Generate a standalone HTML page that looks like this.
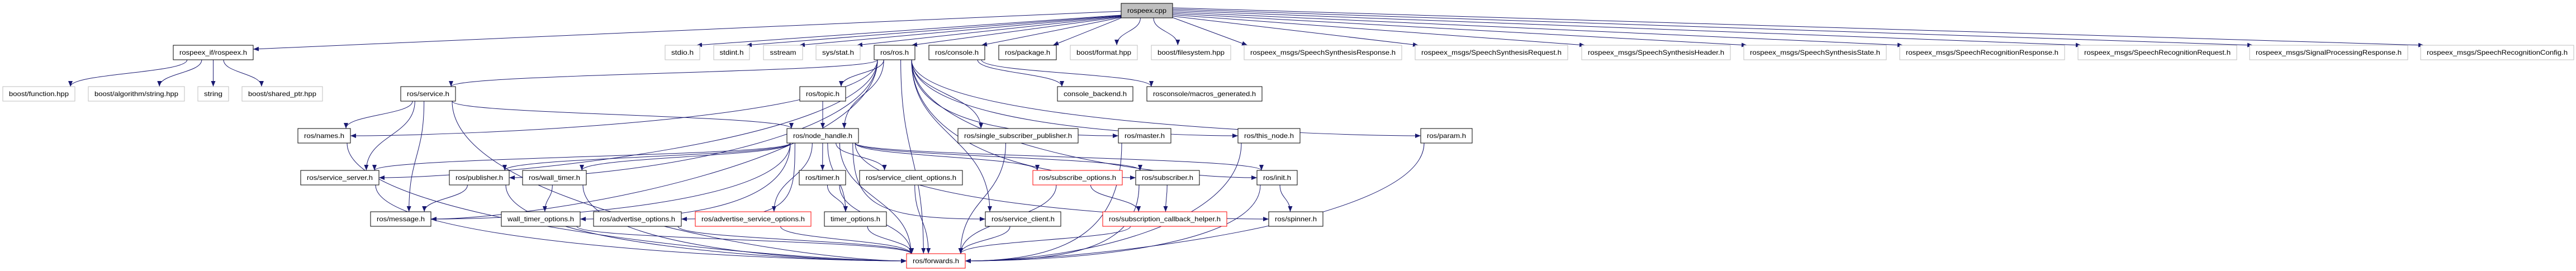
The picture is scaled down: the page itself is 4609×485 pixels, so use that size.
<!DOCTYPE html>
<html><head><meta charset="utf-8"><style>
html,body{margin:0;padding:0;background:#fff;}
svg{display:block;}
text{font-family:"Liberation Sans",sans-serif;font-size:12px;fill:#000;}
</style></head><body>
<svg id="g" width="4609" height="485" viewBox="0 0 4609 485" xmlns="http://www.w3.org/2000/svg">
<defs><marker id="a" markerWidth="10" markerHeight="8" refX="10" refY="4" orient="auto" markerUnits="userSpaceOnUse"><path d="M0,0 L10,4 L0,8 z" fill="#191970"/></marker></defs>
<g id="edges" fill="none" stroke="#191970" stroke-width="1"></g>
<g id="nodes">
<rect id="cpp" x="2006" y="6" width="92" height="26" fill="#bfbfbf" stroke="#000"/><text x="2052" y="23" text-anchor="middle" textLength="70" lengthAdjust="spacingAndGlyphs">rospeex.cpp</text>

<rect id="rif" x="310" y="81" width="143" height="26" fill="#fff" stroke="#000"/><text x="381.5" y="98" text-anchor="middle" textLength="121" lengthAdjust="spacingAndGlyphs">rospeex_if/rospeex.h</text>
<rect id="stdio" x="1190" y="81" width="62" height="26" fill="#fff" stroke="#bfbfbf"/><text x="1221" y="98" text-anchor="middle" textLength="40" lengthAdjust="spacingAndGlyphs">stdio.h</text>
<rect id="stdint" x="1277" y="81" width="64" height="26" fill="#fff" stroke="#bfbfbf"/><text x="1309" y="98" text-anchor="middle" textLength="43" lengthAdjust="spacingAndGlyphs">stdint.h</text>
<rect id="sstream" x="1366" y="81" width="70" height="26" fill="#fff" stroke="#bfbfbf"/><text x="1401" y="98" text-anchor="middle" textLength="47" lengthAdjust="spacingAndGlyphs">sstream</text>
<rect id="sysstat" x="1460" y="81" width="79" height="26" fill="#fff" stroke="#bfbfbf"/><text x="1499.5" y="98" text-anchor="middle" textLength="57" lengthAdjust="spacingAndGlyphs">sys/stat.h</text>
<rect id="ros" x="1564" y="81" width="73" height="26" fill="#fff" stroke="#000"/><text x="1600.5" y="98" text-anchor="middle" textLength="51" lengthAdjust="spacingAndGlyphs">ros/ros.h</text>
<rect id="console" x="1662" y="81" width="100" height="26" fill="#fff" stroke="#000"/><text x="1712" y="98" text-anchor="middle" textLength="78" lengthAdjust="spacingAndGlyphs">ros/console.h</text>
<rect id="package" x="1787" y="81" width="103" height="26" fill="#fff" stroke="#000"/><text x="1838.5" y="98" text-anchor="middle" textLength="81" lengthAdjust="spacingAndGlyphs">ros/package.h</text>
<rect id="bformat" x="1915" y="81" width="120" height="26" fill="#fff" stroke="#bfbfbf"/><text x="1975" y="98" text-anchor="middle" textLength="98" lengthAdjust="spacingAndGlyphs">boost/format.hpp</text>
<rect id="bfs" x="2060" y="81" width="142" height="26" fill="#fff" stroke="#bfbfbf"/><text x="2131" y="98" text-anchor="middle" textLength="120" lengthAdjust="spacingAndGlyphs">boost/filesystem.hpp</text>
<rect id="m1" x="2226" y="81" width="282" height="26" fill="#fff" stroke="#bfbfbf"/><text x="2367" y="98" text-anchor="middle" textLength="260" lengthAdjust="spacingAndGlyphs">rospeex_msgs/SpeechSynthesisResponse.h</text>
<rect id="m2" x="2532" y="81" width="273" height="26" fill="#fff" stroke="#bfbfbf"/><text x="2668.5" y="98" text-anchor="middle" textLength="251" lengthAdjust="spacingAndGlyphs">rospeex_msgs/SpeechSynthesisRequest.h</text>
<rect id="m3" x="2830" y="81" width="266" height="26" fill="#fff" stroke="#bfbfbf"/><text x="2963" y="98" text-anchor="middle" textLength="244" lengthAdjust="spacingAndGlyphs">rospeex_msgs/SpeechSynthesisHeader.h</text>
<rect id="m4" x="3120" y="81" width="255" height="26" fill="#fff" stroke="#bfbfbf"/><text x="3247.5" y="98" text-anchor="middle" textLength="233" lengthAdjust="spacingAndGlyphs">rospeex_msgs/SpeechSynthesisState.h</text>
<rect id="m5" x="3399" y="81" width="295" height="26" fill="#fff" stroke="#bfbfbf"/><text x="3546.5" y="98" text-anchor="middle" textLength="273" lengthAdjust="spacingAndGlyphs">rospeex_msgs/SpeechRecognitionResponse.h</text>
<rect id="m6" x="3718" y="81" width="284" height="26" fill="#fff" stroke="#bfbfbf"/><text x="3860" y="98" text-anchor="middle" textLength="262" lengthAdjust="spacingAndGlyphs">rospeex_msgs/SpeechRecognitionRequest.h</text>
<rect id="m7" x="4025" y="81" width="283" height="26" fill="#fff" stroke="#bfbfbf"/><text x="4166.5" y="98" text-anchor="middle" textLength="261" lengthAdjust="spacingAndGlyphs">rospeex_msgs/SignalProcessingResponse.h</text>
<rect id="m8" x="4331" y="81" width="274" height="26" fill="#fff" stroke="#bfbfbf"/><text x="4468" y="98" text-anchor="middle" textLength="252" lengthAdjust="spacingAndGlyphs">rospeex_msgs/SpeechRecognitionConfig.h</text>

<rect id="bfunc" x="5" y="155" width="129" height="26" fill="#fff" stroke="#bfbfbf"/><text x="69.5" y="172" text-anchor="middle" textLength="107" lengthAdjust="spacingAndGlyphs">boost/function.hpp</text>
<rect id="balg" x="158" y="155" width="172" height="26" fill="#fff" stroke="#bfbfbf"/><text x="244" y="172" text-anchor="middle" textLength="150" lengthAdjust="spacingAndGlyphs">boost/algorithm/string.hpp</text>
<rect id="string" x="354" y="155" width="55" height="26" fill="#fff" stroke="#bfbfbf"/><text x="381.5" y="172" text-anchor="middle" textLength="33" lengthAdjust="spacingAndGlyphs">string</text>
<rect id="bsp" x="433" y="155" width="144" height="26" fill="#fff" stroke="#bfbfbf"/><text x="505" y="172" text-anchor="middle" textLength="122" lengthAdjust="spacingAndGlyphs">boost/shared_ptr.hpp</text>
<rect id="service" x="717" y="155" width="98" height="26" fill="#fff" stroke="#000"/><text x="766" y="172" text-anchor="middle" textLength="76" lengthAdjust="spacingAndGlyphs">ros/service.h</text>
<rect id="topic" x="1431" y="155" width="82" height="26" fill="#fff" stroke="#000"/><text x="1472" y="172" text-anchor="middle" textLength="60" lengthAdjust="spacingAndGlyphs">ros/topic.h</text>
<rect id="cback" x="1892" y="155" width="135" height="26" fill="#fff" stroke="#000"/><text x="1959.5" y="172" text-anchor="middle" textLength="113" lengthAdjust="spacingAndGlyphs">console_backend.h</text>
<rect id="macros" x="2052" y="155" width="206" height="26" fill="#fff" stroke="#000"/><text x="2155" y="172" text-anchor="middle" textLength="184" lengthAdjust="spacingAndGlyphs">rosconsole/macros_generated.h</text>

<rect id="names" x="533" y="230" width="94" height="26" fill="#fff" stroke="#000"/><text x="580" y="247" text-anchor="middle" textLength="72" lengthAdjust="spacingAndGlyphs">ros/names.h</text>
<rect id="nh" x="1408" y="230" width="128" height="26" fill="#fff" stroke="#000"/><text x="1472" y="247" text-anchor="middle" textLength="106" lengthAdjust="spacingAndGlyphs">ros/node_handle.h</text>
<rect id="ssp" x="1714" y="230" width="215" height="26" fill="#fff" stroke="#000"/><text x="1821.5" y="247" text-anchor="middle" textLength="193" lengthAdjust="spacingAndGlyphs">ros/single_subscriber_publisher.h</text>
<rect id="master" x="2001" y="230" width="94" height="26" fill="#fff" stroke="#000"/><text x="2048" y="247" text-anchor="middle" textLength="72" lengthAdjust="spacingAndGlyphs">ros/master.h</text>
<rect id="thisnode" x="2215" y="230" width="111" height="26" fill="#fff" stroke="#000"/><text x="2270.5" y="247" text-anchor="middle" textLength="89" lengthAdjust="spacingAndGlyphs">ros/this_node.h</text>
<rect id="param" x="2542" y="230" width="92" height="26" fill="#fff" stroke="#000"/><text x="2588" y="247" text-anchor="middle" textLength="70" lengthAdjust="spacingAndGlyphs">ros/param.h</text>

<rect id="sserver" x="538" y="305" width="140" height="26" fill="#fff" stroke="#000"/><text x="608" y="322" text-anchor="middle" textLength="118" lengthAdjust="spacingAndGlyphs">ros/service_server.h</text>
<rect id="pub" x="804" y="305" width="107" height="26" fill="#fff" stroke="#000"/><text x="857.5" y="322" text-anchor="middle" textLength="85" lengthAdjust="spacingAndGlyphs">ros/publisher.h</text>
<rect id="wtimer" x="935" y="305" width="114" height="26" fill="#fff" stroke="#000"/><text x="992" y="322" text-anchor="middle" textLength="92" lengthAdjust="spacingAndGlyphs">ros/wall_timer.h</text>
<rect id="timer" x="1430" y="305" width="83" height="26" fill="#fff" stroke="#000"/><text x="1471.5" y="322" text-anchor="middle" textLength="61" lengthAdjust="spacingAndGlyphs">ros/timer.h</text>
<rect id="sco" x="1538" y="305" width="184" height="26" fill="#fff" stroke="#000"/><text x="1630" y="322" text-anchor="middle" textLength="162" lengthAdjust="spacingAndGlyphs">ros/service_client_options.h</text>
<rect id="subopt" x="1848" y="305" width="160" height="26" fill="#fff" stroke="#ff0000"/><text x="1928" y="322" text-anchor="middle" textLength="138" lengthAdjust="spacingAndGlyphs">ros/subscribe_options.h</text>
<rect id="sub" x="2032" y="305" width="114" height="26" fill="#fff" stroke="#000"/><text x="2089" y="322" text-anchor="middle" textLength="92" lengthAdjust="spacingAndGlyphs">ros/subscriber.h</text>
<rect id="init" x="2249" y="305" width="72" height="26" fill="#fff" stroke="#000"/><text x="2285" y="322" text-anchor="middle" textLength="50" lengthAdjust="spacingAndGlyphs">ros/init.h</text>

<rect id="message" x="663" y="379" width="108" height="26" fill="#fff" stroke="#000"/><text x="717" y="396" text-anchor="middle" textLength="86" lengthAdjust="spacingAndGlyphs">ros/message.h</text>
<rect id="wto" x="897" y="379" width="141" height="26" fill="#fff" stroke="#000"/><text x="967.5" y="396" text-anchor="middle" textLength="119" lengthAdjust="spacingAndGlyphs">wall_timer_options.h</text>
<rect id="advo" x="1062" y="379" width="157" height="26" fill="#fff" stroke="#000"/><text x="1140.5" y="396" text-anchor="middle" textLength="135" lengthAdjust="spacingAndGlyphs">ros/advertise_options.h</text>
<rect id="aso" x="1244" y="379" width="207" height="26" fill="#fff" stroke="#ff0000"/><text x="1347.5" y="396" text-anchor="middle" textLength="185" lengthAdjust="spacingAndGlyphs">ros/advertise_service_options.h</text>
<rect id="to" x="1475" y="379" width="111" height="26" fill="#fff" stroke="#000"/><text x="1530.5" y="396" text-anchor="middle" textLength="89" lengthAdjust="spacingAndGlyphs">timer_options.h</text>
<rect id="sclient" x="1763" y="379" width="135" height="26" fill="#fff" stroke="#000"/><text x="1830.5" y="396" text-anchor="middle" textLength="113" lengthAdjust="spacingAndGlyphs">ros/service_client.h</text>
<rect id="sch" x="1973" y="379" width="222" height="26" fill="#fff" stroke="#ff0000"/><text x="2084" y="396" text-anchor="middle" textLength="200" lengthAdjust="spacingAndGlyphs">ros/subscription_callback_helper.h</text>
<rect id="spinner" x="2270" y="379" width="97" height="26" fill="#fff" stroke="#000"/><text x="2318.5" y="396" text-anchor="middle" textLength="75" lengthAdjust="spacingAndGlyphs">ros/spinner.h</text>

<rect id="fwd" x="1622" y="454" width="105" height="26" fill="#fff" stroke="#ff0000"/><text x="1674.5" y="471" text-anchor="middle" textLength="83" lengthAdjust="spacingAndGlyphs">ros/forwards.h</text>
</g>
</svg>
<script>
(function(){
var E=[
["cpp","rif"],["cpp","stdio"],["cpp","stdint"],["cpp","sstream"],["cpp","sysstat"],["cpp","ros"],["cpp","console"],["cpp","package"],["cpp","bformat"],["cpp","bfs"],["cpp","m1"],["cpp","m2"],["cpp","m3"],["cpp","m4"],["cpp","m5"],["cpp","m6"],["cpp","m7"],["cpp","m8"],
["rif","bfunc"],["rif","balg"],["rif","string"],["rif","bsp"],
["ros","service"],["ros","names"],["ros","sserver"],["ros","message"],["ros","topic"],["ros","nh"],["ros","pub"],["ros","ssp"],["ros","master"],["ros","thisnode"],["ros","param"],["ros","init"],["ros","sclient"],["ros","fwd"],["ros","sub"],
["console","cback"],["console","macros"],
["service","names"],["service","nh"],["service","message"],["service","sserver"],["service","fwd"],
["topic","nh"],
["nh","pub"],["nh","wtimer"],["nh","wto"],["nh","advo"],["nh","aso"],["nh","timer"],["nh","to"],["nh","sco"],["nh","subopt"],["nh","sub"],["nh","init"],["nh","spinner"],["nh","sserver"],["nh","message"],["nh","sclient"],["nh","fwd"],
["pub","message"],["wtimer","wto"],["timer","to"],["subopt","sch"],["sub","sch"],["init","spinner"],
["names","fwd"],["sserver","fwd"],["pub","fwd"],["wtimer","fwd"],["wto","fwd"],["advo","fwd"],["aso","fwd"],["to","fwd"],["timer","fwd"],["sco","fwd"],["sclient","fwd"],["subopt","fwd"],["sch","fwd"],["sub","fwd"],["ssp","fwd"],["master","fwd"],["thisnode","fwd"],["init","fwd"],["param","fwd"]
];
function b(id){var r=document.getElementById(id);var x=+r.getAttribute("x"),y=+r.getAttribute("y"),w=+r.getAttribute("width"),h=+r.getAttribute("height");return{x:x,y:y,w:w,h:h,cx:x+w/2};}
var g=document.getElementById("edges"),ns="http://www.w3.org/2000/svg";
E.forEach(function(e){
 var s=b(e[0]),t=b(e[1]),d;
 if(e[0]==="cpp" && Math.abs(t.cx-s.cx)>180){
  var right=t.cx>s.cx, dist=Math.abs(t.cx-s.cx);
  var sy=s.y+28-Math.min(20,dist/120);
  var sx=right?s.x+s.w:s.x;
  var tx,ty;
  if(e[1]==="rif"){tx=t.x+t.w;ty=t.y+7;}
  else {tx=right?t.x+6:t.x+t.w-6;ty=t.y;}
  d="M"+sx+","+sy+" L"+tx+","+ty;
 } else {
  var sx=Math.max(s.x+6,Math.min(s.x+s.w-6,s.cx+(t.cx-s.cx)*0.15));
  var sy=s.y+s.h;
  var tx,ty;
  if(t.y-s.y>80 && Math.abs(t.cx-s.cx)>300){
   ty=t.y+t.h/2; tx=(t.cx>s.cx)?t.x:t.x+t.w;
   var my=(sy+ty)/2;
   d="M"+sx+","+sy+" C"+sx+","+(my+40)+" "+(tx+(t.cx>s.cx?-200:200))+","+ty+" "+tx+","+ty;
  } else {
   tx=Math.max(t.x+8,Math.min(t.x+t.w-8,t.cx+(s.cx-t.cx)*0.3)); ty=t.y;
   var dy=ty-sy;
   d="M"+sx+","+sy+" C"+sx+","+(sy+dy*0.5)+" "+tx+","+(ty-dy*0.5)+" "+tx+","+ty;
  }
 }
 var p=document.createElementNS(ns,"path");p.setAttribute("d",d);p.setAttribute("marker-end","url(#a)");g.appendChild(p);
});
})();
</script>
</body></html>
